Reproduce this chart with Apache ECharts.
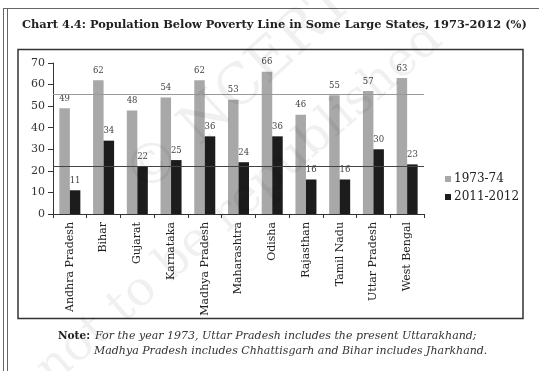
<!DOCTYPE html>
<html>
<head>
<meta charset="utf-8">
<script src="https://cdn.jsdelivr.net/npm/echarts@6/dist/echarts.min.js"></script>
<style>html,body{margin:0;padding:0;background:#fff;}#c{width:539px;height:371px;}</style>
</head>
<body>
<div id="c"></div>
<script>
var states = ['Andhra Pradesh','Bihar','Gujarat','Karnataka','Madhya Pradesh','Maharashtra','Odisha','Rajasthan','Tamil Nadu','Uttar Pradesh','West Bengal'];
var pov1973 = [49,62,48,54,62,53,66,46,55,57,63];
var pov2011 = [11,34,22,25,36,24,36,16,16,30,23];
var avgLines = [55.4, 22];
var seriesNames = ['1973-74','2011-2012'];
var yTicks = {min:0, max:70, interval:10};
var titleText = 'Chart 4.4: Population Below Poverty Line in Some Large States, 1973-2012 (%)';
var noteLine1 = 'For the year 1973, Uttar Pradesh includes the present Uttarakhand;';
var noteLine2 = 'Madhya Pradesh includes Chhattisgarh and Bihar includes Jharkhand.';

var serif = '"DejaVu Serif", "Liberation Serif", serif';
var chart = echarts.init(document.getElementById('c'));
chart.setOption({
  backgroundColor:'#fff',
  animation:false,
  grid:{left:53, right:115, top:63, bottom:157, containLabel:false},
  legend:{
    orient:'vertical', left:440, top:168, itemWidth:6, itemHeight:6, itemGap:6, icon:'rect',
    textStyle:{fontFamily:serif, fontSize:12, color:'#222', padding:[0,0,0,-2]},
    data:seriesNames
  },
  xAxis:{
    type:'category', data:states,
    axisLine:{lineStyle:{color:'#333', width:1}},
    axisTick:{show:true, length:4, lineStyle:{color:'#333'}},
    axisLabel:{rotate:90, fontFamily:serif, fontSize:11, color:'#222', margin:8, interval:0}
  },
  yAxis:{
    type:'value', min:yTicks.min, max:yTicks.max, interval:yTicks.interval,
    axisLine:{show:true, lineStyle:{color:'#333', width:1}},
    axisTick:{show:true, length:5, lineStyle:{color:'#333'}},
    splitLine:{show:false},
    axisLabel:{fontFamily:serif, fontSize:11, color:'#333', margin:8}
  },
  series:[
    {name:seriesNames[0], type:'bar', data:pov1973, barWidth:10.5, barGap:'0%',
     itemStyle:{color:'#a8a8a8'},
     label:{show:true, position:'top', distance:5, fontFamily:serif, fontSize:8.5, color:'#444'},
     markLine:{silent:true, symbol:'none', label:{show:false},
       lineStyle:{color:'#9a9a9a', width:1, type:'solid'}, data:[{yAxis:avgLines[0]}]}
    },
    {name:seriesNames[1], type:'bar', data:pov2011, barWidth:10.5,
     itemStyle:{color:'#1c1c1c'},
     label:{show:true, position:'top', distance:5, fontFamily:serif, fontSize:8.5, color:'#444'},
     markLine:{silent:true, symbol:'none', label:{show:false},
       lineStyle:{color:'#444', width:1, type:'solid'}, data:[{yAxis:avgLines[1]}]}
    }
  ],
  graphic:[
    {type:'line', shape:{x1:3.5,y1:8,x2:3.5,y2:371}, style:{stroke:'#666', lineWidth:1}},
    {type:'line', shape:{x1:7.5,y1:8,x2:7.5,y2:371}, style:{stroke:'#666', lineWidth:1}},
    {type:'line', shape:{x1:3,y1:8.5,x2:539,y2:8.5}, style:{stroke:'#666', lineWidth:1}},
    {type:'rect', shape:{x:18,y:49.5,width:505,height:269}, style:{fill:null, stroke:'#333', lineWidth:1.5}},
    {type:'text', left:22, top:20, style:{text:titleText, font:'bold 11.4px "DejaVu Serif", serif', fill:'#222'}},
    {type:'text', left:58, top:331, style:{text:'Note:', font:'bold 10.5px "DejaVu Serif", serif', fill:'#222'}},
    {type:'text', left:95, top:331, style:{text:noteLine1, font:'italic 11px "DejaVu Serif", serif', fill:'#333'}},
    {type:'text', left:94, top:346, style:{text:noteLine2, font:'italic 11px "DejaVu Serif", serif', fill:'#333'}},
    {type:'text', x:240, y:90, rotation:0.74, style:{text:'\u00a9 NCERT', font:'56px "DejaVu Serif", serif', fill:'rgba(0,0,0,0.06)', align:'center', verticalAlign:'middle'}, z:100},
    {type:'text', x:240, y:205, rotation:0.72, style:{text:'not to be republished', font:'48px "DejaVu Serif", serif', fill:'rgba(0,0,0,0.06)', align:'center', verticalAlign:'middle'}, z:100}
  ]
});
</script>
</body>
</html>
